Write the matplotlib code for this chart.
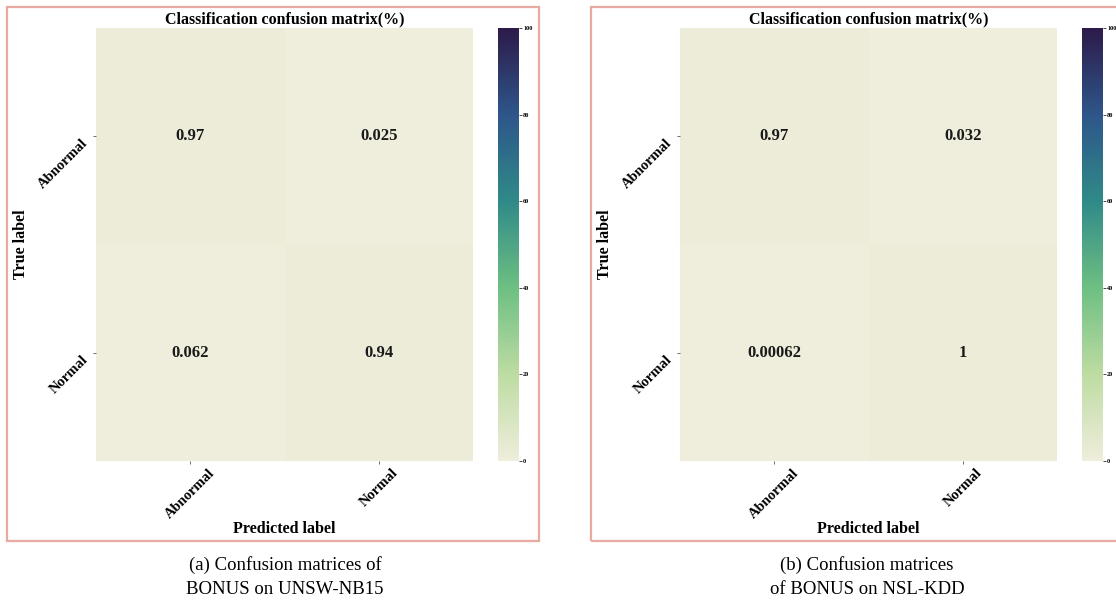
import numpy as np
import matplotlib
matplotlib.use("Agg")
import matplotlib.pyplot as plt
from matplotlib.colors import LinearSegmentedColormap
from matplotlib.patches import Rectangle
import seaborn as sns

plt.rcParams['font.family'] = ['Liberation Serif', 'DejaVu Serif']

# 混淆矩阵数据
labels = ["Abnormal", "Normal"]
cm_unsw = [[0.97, 0.025],
           [0.062, 0.94]]
cm_nsl = [[0.97, 0.032],
          [0.00062, 1]]
annots_unsw = [["0.97", "0.025"], ["0.062", "0.94"]]
annots_nsl = [["0.97", "0.032"], ["0.00062", "1"]]
captions = ["(a) Confusion matrices of\nBONUS on UNSW-NB15",
            "(b) Confusion matrices\nof BONUS on NSL-KDD"]
cbar_ticks = [0, 20, 40, 60, 80, 100]

cmap = LinearSegmentedColormap.from_list(
    "deep_like",
    ["#efeddb", "#bddca2", "#6dbf82", "#2f8a88", "#2e568a", "#2c1b4a"])

W, H = 1116, 604
fig = plt.figure(figsize=(W / 100, H / 100), dpi=100)


def fx(px):
    return px / W


def fy(py):
    return 1 - py / H


for k, (cm, ann) in enumerate([(cm_unsw, annots_unsw), (cm_nsl, annots_nsl)]):
    off = 584 * k
    # 外框
    fig.patches.append(Rectangle((fx(7 + off), fy(541)), fx(532), 534 / H,
                                 transform=fig.transFigure, fill=False,
                                 edgecolor="#e9aaa2", linewidth=1.6))
    ax = fig.add_axes([fx(96 + off), fy(461), fx(377), 433 / H])
    cax = fig.add_axes([fx(498 + off), fy(461), fx(21), 433 / H])
    sns.heatmap(np.array(cm), ax=ax, cbar_ax=cax, cmap=cmap, vmin=0, vmax=100,
                annot=np.array(ann), fmt="",
                annot_kws={"fontsize": 12, "fontweight": "bold", "color": "#1a1a1a"},
                xticklabels=labels, yticklabels=labels)
    ax.set_title("Classification confusion matrix(%)", fontsize=11.5,
                 fontweight="bold", pad=3)
    ax.set_xlabel("Predicted label", fontsize=11.5, fontweight="bold", labelpad=0)
    ax.set_ylabel("True label", fontsize=11.5, fontweight="bold", labelpad=5)
    ax.tick_params(axis="both", length=2, width=0.6, color="#555555", pad=2)
    plt.setp(ax.get_xticklabels(), rotation=45, ha="center", va="top",
             fontsize=10.5, fontweight="bold")
    plt.setp(ax.get_yticklabels(), rotation=45, ha="right", va="top",
             fontsize=10.5, fontweight="bold")
    cax.set_yticks(cbar_ticks)
    cax.tick_params(labelsize=4.5, length=2, width=0.5, pad=1)
    for t in cax.get_yticklabels():
        t.set_fontweight("bold")
    fig.text(fx(285 + off - 2 * k), fy(577), captions[k], ha="center", va="center",
             fontsize=13.5, linespacing=1.6)

fig.savefig("out.png", dpi=100)
